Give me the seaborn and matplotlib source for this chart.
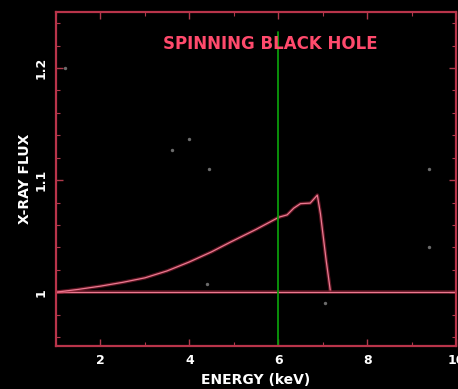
import numpy as np
import pandas as pd
import matplotlib
matplotlib.use("Agg")
import matplotlib.pyplot as plt
import seaborn as sns
from matplotlib.ticker import MultipleLocator

# Data
energy = [1.0, 1.5, 2.0, 2.5, 3.0, 3.5, 4.0, 4.5, 4.92, 5.5, 6.02, 6.2, 6.35, 6.5, 6.72, 6.88, 6.95, 7.08, 7.17]
flux = [1.000, 1.0025, 1.0054, 1.0088, 1.0128, 1.019, 1.027, 1.036, 1.0446, 1.056, 1.067, 1.069, 1.075, 1.079, 1.0795, 1.0866, 1.070, 1.028, 1.002]
baseline_energy = [1.0, 10.0]
baseline_flux = [1.0, 1.0]
marker_energy = 6.0
title_text = "SPINNING BLACK HOLE"
x_label = "ENERGY (keV)"
y_label = "X-RAY FLUX"
x_ticks = [2, 4, 6, 8, 10]
y_ticks = [1.0, 1.1, 1.2]
y_tick_labels = ["1", "1.1", "1.2"]
star_x = [4.0, 3.6, 4.45, 1.2, 9.4, 9.4, 4.4, 7.05]
star_y = [1.137, 1.127, 1.110, 1.200, 1.110, 1.040, 1.007, 0.990]

sns.set_style("dark")
plt.rcParams['font.family'] = ['DejaVu Sans']

fig = plt.figure(figsize=(4.58, 3.89), dpi=100, facecolor="black")
ax = fig.add_axes([56/458, 1-346/389, 400/458, 334/389])
ax.set_facecolor("black")

line_col = "#ec7890"
glow_col = "#b02840"
curve = pd.DataFrame({"energy": energy, "flux": flux})
base = pd.DataFrame({"energy": baseline_energy, "flux": baseline_flux})

for d in (base, curve):
    sns.lineplot(data=d, x="energy", y="flux", ax=ax, color=glow_col, lw=2.6, alpha=0.5, sort=False)
    sns.lineplot(data=d, x="energy", y="flux", ax=ax, color=line_col, lw=0.9, sort=False)

ax.axvline(marker_energy, ymin=0.0, ymax=(1.232-0.952)/(1.25-0.952), color="#0a9a0a", lw=1.3)

ax.scatter(star_x, star_y, s=6, color="#9a9a9a", alpha=0.7, lw=0, zorder=1)

ax.set_xlim(1, 10)
ax.set_ylim(0.952, 1.25)
ax.set_xticks(x_ticks)
ax.set_xticklabels([str(t) for t in x_ticks])
ax.set_yticks(y_ticks)
ax.set_yticklabels(y_tick_labels, rotation=90, va="center")
ax.xaxis.set_minor_locator(MultipleLocator(1))
ax.yaxis.set_minor_locator(MultipleLocator(0.02))
ax.tick_params(which="both", direction="in", top=True, right=True, bottom=True, left=True,
               color="#b03a4c", labelcolor="white")
ax.tick_params(which="major", length=5, width=1)
ax.tick_params(which="minor", length=3, width=0.8)
for lab in ax.get_xticklabels() + ax.get_yticklabels():
    lab.set_fontweight("bold")
    lab.set_fontsize(9)
ax.tick_params(axis="x", pad=6)
ax.tick_params(axis="y", pad=6)
ax.grid(False)
for s in ax.spines.values():
    s.set_visible(True)
    s.set_color("#b8344a")
    s.set_linewidth(1.6)

ax.set_xlabel(x_label, color="white", fontsize=10, fontweight="bold", labelpad=4)
ax.set_ylabel(y_label, color="white", fontsize=10, fontweight="bold", labelpad=2)

ax.text(0.535, 0.905, title_text, transform=ax.transAxes, ha="center", va="center",
        color="#ff4a6c", fontsize=12, fontweight="bold")

fig.savefig("out.png", dpi=100, facecolor="black")
